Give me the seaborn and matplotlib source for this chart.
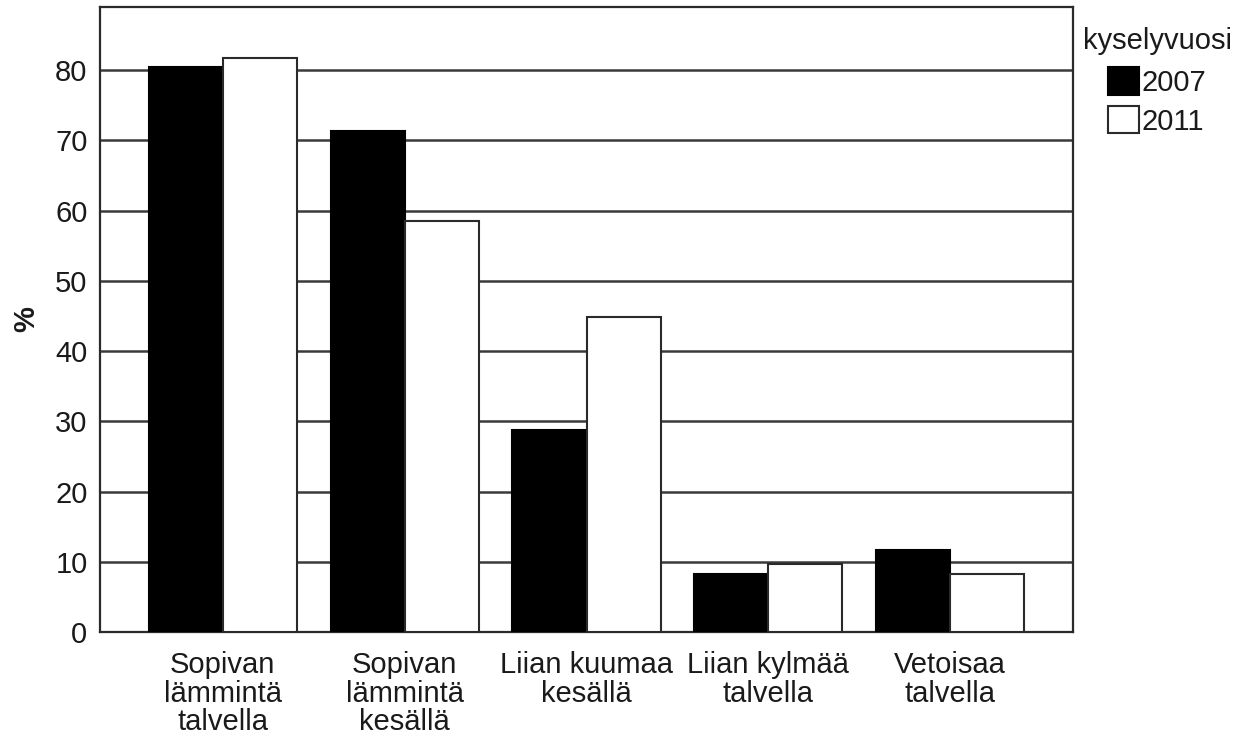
import pandas as pd
import numpy as np
import matplotlib.pyplot as plt
import seaborn as sns

# values (%)
categories = ["Sopivan\nlämmintä\ntalvella", "Sopivan\nlämmintä\nkesällä",
              "Liian kuumaa\nkesällä", "Liian kylmää\ntalvella", "Vetoisaa\ntalvella"]
years = ["2007", "2011"]
values_2007 = [80.4, 71.4, 28.8, 8.2, 11.7]
values_2011 = [81.7, 58.5, 44.9, 9.7, 8.3]

df = pd.DataFrame({
    "kategoria": categories * 2,
    "kyselyvuosi": [years[0]] * 5 + [years[1]] * 5,
    "pros": values_2007 + values_2011,
})

sns.set_style("white")
plt.rcParams['font.family'] = ['Liberation Sans', 'DejaVu Sans']
txt = '#1a1a1a'
fs = 21

fig = plt.figure(figsize=(12.53, 7.35), dpi=100)
ax = fig.add_axes([100 / 1253, 1 - 632 / 735, 973 / 1253, 625 / 735])

sns.barplot(data=df, x="kategoria", y="pros", hue="kyselyvuosi",
            palette={"2007": "black", "2011": "white"}, width=0.815,
            saturation=1, legend=False, ax=ax, zorder=3)

for cont, ec in zip(ax.containers, ["black", "#2a2a2a"]):
    for p in cont.patches:
        p.set_edgecolor(ec)
        p.set_linewidth(1.5)

ax.set_xlim(-0.675, 4.675)
ax.set_ylim(0, 89)
ax.set_yticks(np.arange(0, 81, 10))
ax.yaxis.grid(True, color='#3a3a3a', lw=1.8, zorder=0)
ax.set_axisbelow(True)

for s in ax.spines.values():
    s.set_color('#2a2a2a')
    s.set_linewidth(1.6)

ax.tick_params(axis='both', direction='out', length=8, width=1.5,
               color='#2a2a2a', labelsize=fs, labelcolor=txt)
ax.tick_params(axis='y', pad=1)
ax.tick_params(axis='x', pad=6)
for lbl in ax.get_xticklabels():
    lbl.set_linespacing(1.02)

ax.set_xlabel("")
ax.set_ylabel("%", fontsize=fs, fontweight='bold', color=txt)
ax.yaxis.set_label_coords(-0.061, 0.5)

leg = ax.legend(handles=list(ax.containers), labels=years, title="kyselyvuosi",
                loc='upper left', bbox_to_anchor=(1.01, 0.968), frameon=False,
                fontsize=fs, title_fontsize=fs, handlelength=1.05, handleheight=1.05,
                handletextpad=0.1, labelspacing=0.32, borderaxespad=0,
                borderpad=0, alignment='center')
leg._legend_box.sep = 9
for t in leg.get_texts():
    t.set_color(txt)
leg.get_title().set_color(txt)

plt.savefig("out.png", dpi=100)
